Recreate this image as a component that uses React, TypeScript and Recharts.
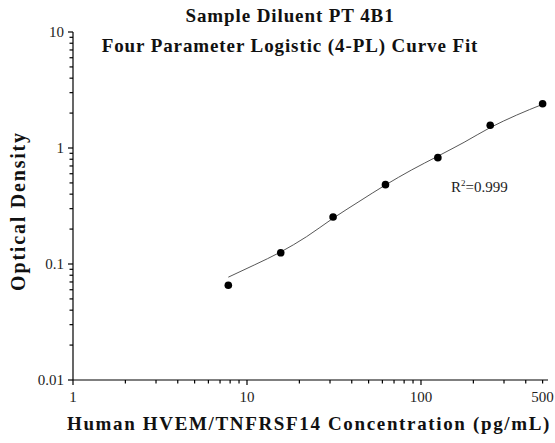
import React from "react";
import { ComposedChart, Line, Scatter, XAxis, YAxis } from "recharts";

// standard points (concentration pg/mL, OD)
const concentrations = [7.81, 15.63, 31.25, 62.5, 125, 250, 500];
const odValues = [0.0655, 0.125, 0.254, 0.483, 0.826, 1.57, 2.41];

// fitted 4-PL curve
const curveX = [7.81, 11, 15.63, 22, 31.25, 44, 62.5, 88, 125, 177, 250, 354, 500];
const curveY = [0.077, 0.098, 0.127, 0.172, 0.248, 0.345, 0.48, 0.645, 0.85, 1.12, 1.5, 1.92, 2.38];

const xTicks = [1, 2, 3, 4, 5, 6, 7, 8, 9, 10, 20, 30, 40, 50, 60, 70, 80, 90, 100, 200, 300, 400, 500];
const xTickLabels: Record<number, string> = { 1: "1", 10: "10", 100: "100", 500: "500" };
const yTicks = [
  0.01, 0.02, 0.03, 0.04, 0.05, 0.06, 0.07, 0.08, 0.09,
  0.1, 0.2, 0.3, 0.4, 0.5, 0.6, 0.7, 0.8, 0.9,
  1, 2, 3, 4, 5, 6, 7, 8, 9, 10,
];
const yTickLabels: Record<number, string> = { 0.01: "0.01", 0.1: "0.1", 1: "1", 10: "10" };

const points = concentrations.map((x, i) => ({ x, y: odValues[i] }));
const curve = curveX.map((x, i) => ({ x, y: curveY[i] }));

const serif = "'Liberation Serif', 'Times New Roman', serif";

function XTick({ x, y, payload }: any) {
  const label = xTickLabels[payload.value];
  const len = payload.value === 1 || payload.value === 10 || payload.value === 100 ? 5 : 3.5;
  return (
    <g>
      <line x1={x} y1={y} x2={x} y2={y + len} stroke="#000" strokeWidth={1.2} />
      {label && (
        <text x={x} y={y + 22} textAnchor="middle" fontFamily={serif} fontSize={15} fill="#222">
          {label}
        </text>
      )}
    </g>
  );
}

function YTick({ x, y, payload }: any) {
  const label = yTickLabels[payload.value];
  const len = label ? 5 : 3.5;
  return (
    <g>
      <line x1={x} y1={y} x2={x - len} y2={y} stroke="#000" strokeWidth={1.2} />
      {label && (
        <text x={x - 9} y={y + 5} textAnchor="end" fontFamily={serif} fontSize={15} fill="#222">
          {label}
        </text>
      )}
    </g>
  );
}

export default function App() {
  return (
    <div style={{ position: "absolute", left: 0, top: 0, width: 555, height: 443, background: "#fff" }}>
      <ComposedChart
        width={555}
        height={443}
        margin={{ top: 32, right: 7, bottom: 33, left: 13 }}
      >
        <XAxis
          dataKey="x"
          type="number"
          scale="log"
          domain={[1, 537]}
          allowDataOverflow
          ticks={xTicks}
          interval={0}
          tickSize={0}
          tickMargin={0}
          tick={<XTick />}
          height={30}
          axisLine={{ stroke: "#000", strokeWidth: 1.2 }}
          tickLine={false}
        />
        <YAxis
          dataKey="y"
          type="number"
          scale="log"
          domain={[0.01, 10]}
          allowDataOverflow
          ticks={yTicks}
          interval={0}
          tickSize={0}
          tickMargin={0}
          tick={<YTick />}
          width={60}
          axisLine={{ stroke: "#000", strokeWidth: 1.2 }}
          tickLine={false}
        />
        <Line
          data={curve}
          dataKey="y"
          type="monotone"
          stroke="#444"
          strokeWidth={0.9}
          dot={false}
          isAnimationActive={false}
        />
        <Scatter
          data={points}
          fill="#000"
          shape={(p: any) => <circle cx={p.cx} cy={p.cy} r={3.8} fill="#000" />}
          isAnimationActive={false}
        />
      </ComposedChart>
      <div
        style={{
          position: "absolute",
          left: 0,
          top: 1,
          width: 580,
          textAlign: "center",
          fontFamily: serif,
          fontWeight: "bold",
          fontSize: 19,
          letterSpacing: 0.9,
          lineHeight: "30px",
          color: "#111",
        }}
      >
        Sample Diluent PT 4B1
        <br />
        Four Parameter Logistic (4-PL) Curve Fit
      </div>
      <div
        style={{
          position: "absolute",
          left: 451,
          top: 178,
          fontFamily: serif,
          fontSize: 15,
          color: "#222",
          whiteSpace: "nowrap",
        }}
      >
        R<sup style={{ fontSize: 9 }}>2</sup>=0.999
      </div>
      <div
        style={{
          position: "absolute",
          left: 18,
          top: 211,
          transform: "translate(-50%, -50%) rotate(-90deg)",
          fontFamily: serif,
          fontWeight: "bold",
          fontSize: 20,
          letterSpacing: 1.8,
          color: "#111",
          whiteSpace: "nowrap",
        }}
      >
        Optical Density
      </div>
      <div
        style={{
          position: "absolute",
          left: 60,
          top: 413,
          width: 498,
          textAlign: "center",
          fontFamily: serif,
          fontWeight: "bold",
          fontSize: 19,
          letterSpacing: 1.65,
          color: "#111",
          whiteSpace: "nowrap",
        }}
      >
        Human HVEM/TNFRSF14 Concentration (pg/mL)
      </div>
    </div>
  );
}
